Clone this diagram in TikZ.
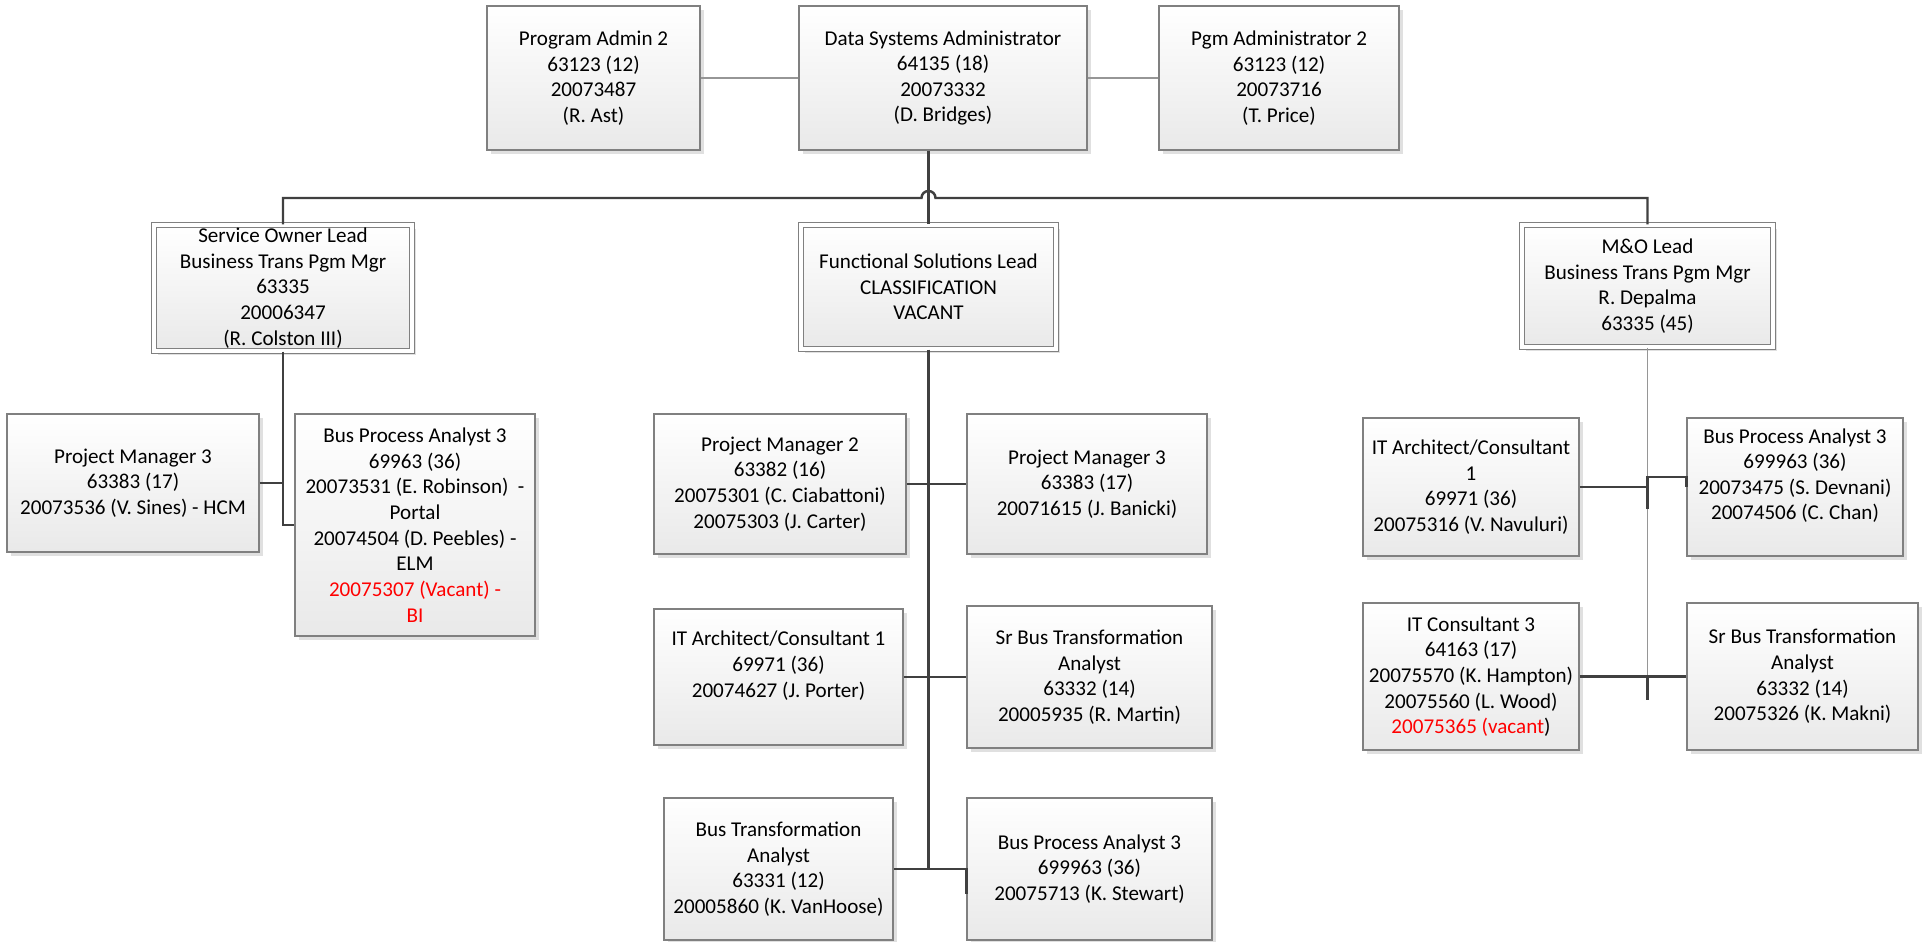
\documentclass[tikz,border=0pt]{standalone}
\usepackage{fontspec}
\setmainfont{Carlito}
\usepackage{xcolor}
\usepackage{tikz}
\usetikzlibrary{shadows}
\definecolor{boxborder}{RGB}{128, 128, 128}
\definecolor{boxshade}{RGB}{233, 233, 233}
\definecolor{linkdark}{RGB}{64, 64, 64}
\definecolor{linklight}{RGB}{150, 150, 150}
\definecolor{vacantred}{RGB}{255, 0, 0}

\begin{document}
\begin{tikzpicture}[
    x=0.02cm, y=-0.02cm,
    post/.style={draw=boxborder, line width=0.7pt, top color=white, bottom color=boxshade, align=center, inner sep=0pt, font=\fontsize{12}{14.6}\selectfont, drop shadow={shadow xshift=2.2pt, shadow yshift=-2.2pt, fill=black!12, opacity=1}},
    lead/.style={post, double=white, double distance=2pt},
    link/.style={draw=linkdark, line width=1.4pt},
    thinlink/.style={draw=linklight, line width=0.7pt}
]
    \fill[white] (0,0) rectangle (1925,942);
    \useasboundingbox (0,0) rectangle (1925,942);

    % Top row
    \node[post, minimum width=4.26cm, minimum height=2.88cm] (padm) at (593.5,78) {Program Admin 2\\63123 (12)\\20073487\\(R. Ast)};
    \node[post, minimum width=5.76cm, minimum height=2.88cm] (dsa) at (943,78) {Data Systems Administrator\\64135 (18)\\20073332\\(D. Bridges)};
    \node[post, minimum width=4.80cm, minimum height=2.88cm] (pgm) at (1279,78) {Pgm Administrator 2\\63123 (12)\\20073716\\(T. Price)};

    % Leads
    \node[lead, minimum width=5.16cm, minimum height=2.52cm] (sol) at (283,288) {Service Owner Lead\\Business Trans Pgm Mgr\\63335\\20006347\\(R. Colston III)};
    \node[lead, minimum width=5.10cm, minimum height=2.48cm] (fsl) at (928.5,287) {Functional Solutions Lead\\CLASSIFICATION\\VACANT};
    \node[lead, minimum width=5.02cm, minimum height=2.44cm] (mol) at (1647.5,286) {M\&O Lead\\Business Trans Pgm Mgr\\R. Depalma\\63335 (45)};

    % Service owner team
    \node[post, minimum width=5.04cm, minimum height=2.76cm] (pm3L) at (133,483) {Project Manager 3\\63383 (17)\\20073536 (V. Sines) - HCM};
    \node[post, minimum width=4.80cm, minimum height=4.44cm] (bpaL) at (415,525) {Bus Process Analyst 3\\69963 (36)\\20073531 (E. Robinson)\ \ -\\Portal\\20074504 (D. Peebles) -\\ELM\\\textcolor{vacantred}{20075307 (Vacant) -}\\\textcolor{vacantred}{BI}};

    % Functional solutions team
    \node[post, minimum width=5.04cm, minimum height=2.80cm] (pm2) at (780,484) {Project Manager 2\\63382 (16)\\20075301 (C. Ciabattoni)\\20075303 (J. Carter)};
    \node[post, minimum width=4.80cm, minimum height=2.80cm] (pm3C) at (1087,484) {Project Manager 3\\63383 (17)\\20071615 (J. Banicki)};
    \node[post, minimum width=4.98cm, minimum height=2.72cm] (itarchC) at (778.5,677) {IT Architect/Consultant 1\\69971 (36)\\20074627 (J. Porter)\\\mbox{}};
    \node[post, minimum width=4.90cm, minimum height=2.84cm] (srbC) at (1089.5,677) {Sr Bus Transformation\\Analyst\\63332 (14)\\20005935 (R. Martin)};
    \node[post, minimum width=4.58cm, minimum height=2.84cm] (btaC) at (778.5,869) {Bus Transformation\\Analyst\\63331 (12)\\20005860 (K. VanHoose)};
    \node[post, minimum width=4.90cm, minimum height=2.84cm] (bpaC) at (1089.5,869) {Bus Process Analyst 3\\699963 (36)\\20075713 (K. Stewart)};

    % M&O team
    \node[post, minimum width=4.32cm, minimum height=2.76cm] (itarchR) at (1471,487) {IT Architect/Consultant\\1\\69971 (36)\\20075316 (V. Navuluri)};
    \node[post, minimum width=4.32cm, minimum height=2.76cm] (bpaR) at (1795,487) {Bus Process Analyst 3\\699963 (36)\\20073475 (S. Devnani)\\20074506 (C. Chan)\\\mbox{}};
    \node[post, minimum width=4.32cm, minimum height=2.94cm] (itconsR) at (1471,676.5) {IT Consultant 3\\64163 (17)\\20075570 (K. Hampton)\\20075560 (L. Wood)\\\textcolor{vacantred}{20075365 (vacant})};
    \node[post, minimum width=4.62cm, minimum height=2.94cm] (srbR) at (1802.5,676.5) {Sr Bus Transformation\\Analyst\\63332 (14)\\20075326 (K. Makni)};

    % Staff links
    \draw[thinlink] (padm.east) -- (dsa.west);
    \draw[thinlink] (dsa.east) -- (pgm.west);

    % Main bus with hop
    \coordinate (bus) at (0,198);
    \draw[link] (sol.north) |- ([xshift=-4pt]fsl.north |- bus) arc[start angle=180, end angle=0, radius=4pt] -| (mol.north);
    \draw[link] (fsl.north |- dsa.south) -- (fsl.north);

    % Service owner links
    \draw[link] (sol.south) |- (bpaL.west);
    \draw[link] (pm3L.east) -- (pm3L.east -| sol.south);

    % Functional solutions links
    \draw[link] (fsl.south) |- (bpaC.west) -- ++(0,25);
    \draw[link] (pm2.east) -- (pm3C.west);
    \draw[link] (itarchC.east) -- (srbC.west);
    \draw[link] (btaC.east) -- (btaC.east -| fsl.south);

    % M&O links
    \coordinate (moend) at (1647.5,700);
    \draw[thinlink] (mol.south) -- (moend);
    \draw[link] (itarchR.east) -- (itarchR.east -| mol.south) -- ++(0,22);
    \draw[link] (bpaR.west) -- ++(0,-10) -| (mol.south |- itarchR.east);
    \draw[link] (itconsR.east) -- (srbR.west);
    \draw[link] (itconsR.east -| mol.south) -- (moend);

\end{tikzpicture}
\end{document}
